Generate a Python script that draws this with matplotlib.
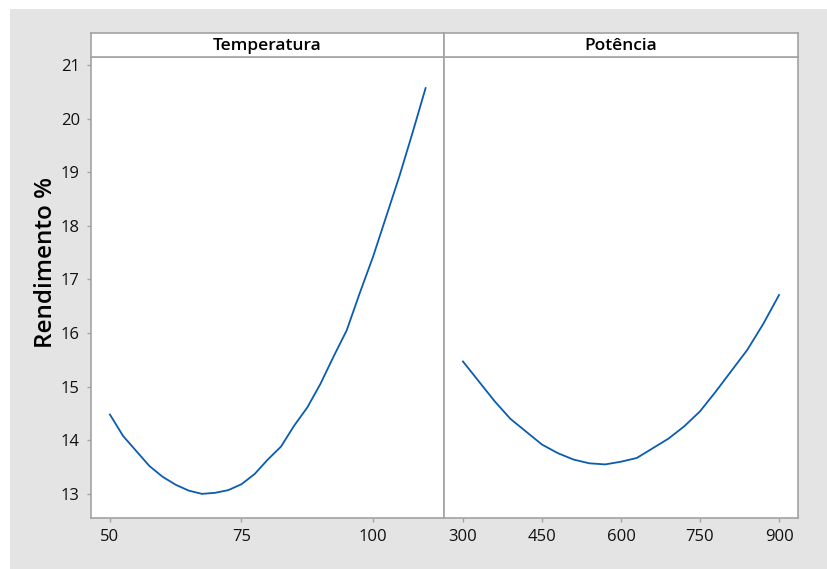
import numpy as np
import matplotlib
matplotlib.use('Agg')
import matplotlib.pyplot as plt
from matplotlib.patches import Rectangle

plt.rcParams['font.family'] = ['Open Sans', 'DejaVu Sans']

# fitted means for each factor
temperatura = [50, 52.5, 55, 57.5, 60, 62.5, 65, 67.5, 70, 72.5, 75, 77.5, 80,
               82.5, 85, 87.5, 90, 92.5, 95, 97.5, 100, 102.5, 105, 107.5, 110]
rend_temp = [14.48, 14.08, 13.80, 13.52, 13.32, 13.17, 13.06, 13.00, 13.02, 13.07,
             13.18, 13.37, 13.64, 13.88, 14.27, 14.61, 15.05, 15.56, 16.05, 16.75,
             17.42, 18.17, 18.92, 19.73, 20.57]

potencia = [300, 330, 360, 390, 420, 450, 480, 510, 540, 570, 600, 630, 660, 690,
            720, 750, 780, 810, 840, 870, 900]
rend_pot = [15.47, 15.10, 14.73, 14.40, 14.16, 13.92, 13.76, 13.64, 13.57, 13.55,
            13.60, 13.67, 13.85, 14.03, 14.26, 14.54, 14.91, 15.30, 15.69, 16.17, 16.71]

temp_ticks = [50, 75, 100]
pot_ticks = [300, 450, 600, 750, 900]
y_ticks = [13, 14, 15, 16, 17, 18, 19, 20, 21]

W, H = 827, 569
fig = plt.figure(figsize=(W / 100, H / 100), dpi=100, facecolor='white')
fig.patches.append(Rectangle((10 / W, 0), 1 - 10 / W, 1 - 9 / H, transform=fig.transFigure,
                             facecolor='#e4e4e4', edgecolor='none', zorder=-1))

line_col = '#0a5cb0'
edge_col = '#a3a3a3'


def fx(px):
    return px / W


def fy(py):
    return 1 - py / H


top, bot = 57, 518
strip_top = 33
panels = [(91, 444, temperatura, rend_temp, temp_ticks, (46.4, 113.5), 'Temperatura'),
          (444, 798, potencia, rend_pot, pot_ticks, (264, 936), 'Potência')]

for i, (x0, x1, xs, ys, ticks, xlim, title) in enumerate(panels):
    ax = fig.add_axes([fx(x0), fy(bot), fx(x1 - x0), fy(top) - fy(bot)])
    ax.plot(xs, ys, color=line_col, lw=1.3)
    ax.set_xlim(*xlim)
    ax.set_ylim(12.55, 21.15)
    ax.set_xticks(ticks)
    ax.set_yticks(y_ticks)
    for s in ax.spines.values():
        s.set_color(edge_col)
        s.set_linewidth(1.2)
    ax.tick_params(direction='out', length=3, width=1, color=edge_col,
                   labelsize=12, pad=5, labelcolor='#111111')
    if i > 0:
        ax.tick_params(axis='y', left=False, labelleft=False)
    else:
        ax.set_ylabel('Rendimento %', fontsize=17.5, fontweight='semibold')
        ax.yaxis.set_label_coords(-0.093, 0.555)

    sx = fig.add_axes([fx(x0), fy(top), fx(x1 - x0), fy(strip_top) - fy(top)])
    sx.set_xticks([])
    sx.set_yticks([])
    for s in sx.spines.values():
        s.set_color(edge_col)
        s.set_linewidth(1.2)
    sx.text(0.5, 0.45, title, ha='center', va='center', fontsize=12.5,
            fontweight='semibold', transform=sx.transAxes)

fig.savefig('out.png', dpi=100, facecolor=fig.get_facecolor())
